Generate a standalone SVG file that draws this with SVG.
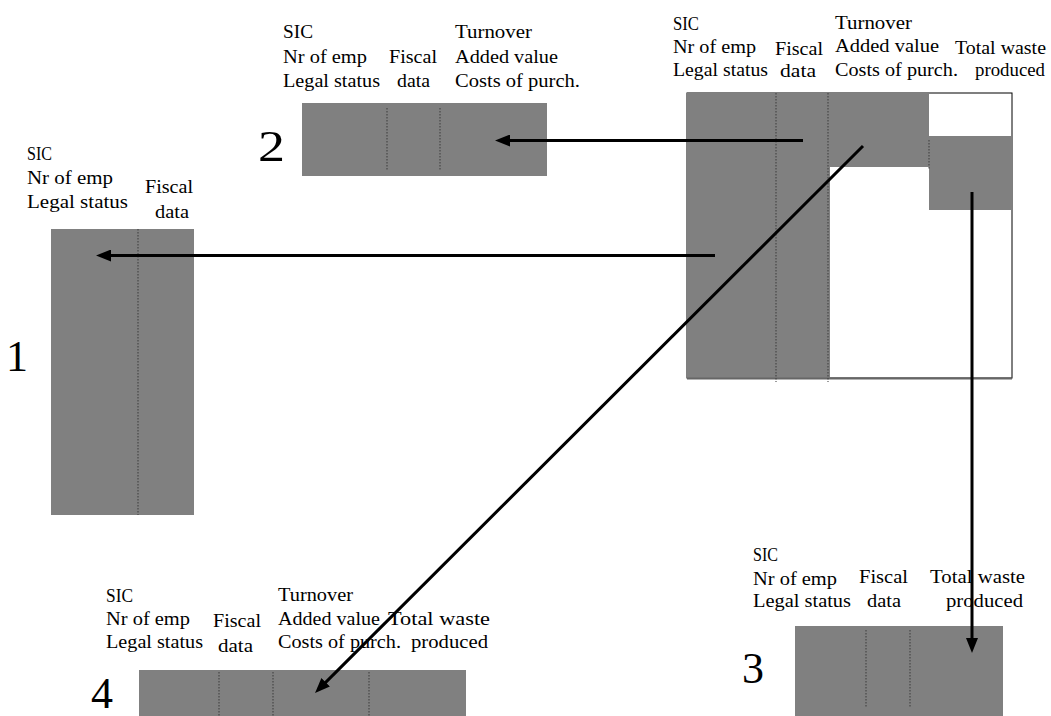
<svg xmlns="http://www.w3.org/2000/svg" width="1051" height="716" viewBox="0 0 1051 716" font-family="Liberation Serif, Times New Roman, serif">
<defs>
<style>
text{font-size:18.5px;fill:#000}
.num{font-size:44px}
.cell{fill:#808080}
.sep{stroke:#3a3a3a;stroke-width:1;stroke-dasharray:1.5 1.5;fill:none}
.conn{stroke:#000;stroke-width:3;fill:none}
</style>
<marker id="ah" markerWidth="5" markerHeight="4" refX="2" refY="2" orient="auto" markerUnits="strokeWidth">
<path d="M0,0 L5,2 L0,4 z" fill="#000"/>
</marker>
</defs>
<rect width="1051" height="716" fill="#fff"/>

<g id="source">
<rect x="687" y="93" width="325" height="285" fill="#fff" stroke="#000" stroke-width="1"/>
<rect class="cell" x="687" y="93" width="143" height="285"/>
<rect class="cell" x="830" y="93" width="99" height="74"/>
<rect class="cell" x="929" y="136" width="83" height="74"/>
<line x1="687" y1="378.5" x2="1012" y2="378.5" stroke="#666" stroke-width="2"/>
<line class="sep" x1="776" y1="93" x2="776" y2="382"/>
<line class="sep" x1="828" y1="93" x2="828" y2="382"/>
<line class="sep" x1="929" y1="140" x2="929" y2="170"/>
<text x="673" y="30" textLength="26" lengthAdjust="spacingAndGlyphs">SIC</text>
<text x="673" y="53" textLength="83" lengthAdjust="spacingAndGlyphs">Nr of emp</text>
<text x="673" y="76" textLength="95" lengthAdjust="spacingAndGlyphs">Legal status</text>
<text x="775" y="55" textLength="48" lengthAdjust="spacingAndGlyphs">Fiscal</text>
<text x="780" y="77" textLength="36" lengthAdjust="spacingAndGlyphs">data</text>
<text x="835" y="29" textLength="77" lengthAdjust="spacingAndGlyphs">Turnover</text>
<text x="835" y="52" textLength="104" lengthAdjust="spacingAndGlyphs">Added value</text>
<text x="835" y="76" textLength="123" lengthAdjust="spacingAndGlyphs">Costs of purch.</text>
<text x="955" y="54" textLength="91" lengthAdjust="spacingAndGlyphs">Total waste</text>
<text x="975" y="76" textLength="70" lengthAdjust="spacingAndGlyphs">produced</text>
</g>

<g id="block2">
<rect class="cell" x="302" y="103" width="245" height="73"/>
<line class="sep" x1="387" y1="108" x2="387" y2="170"/>
<line class="sep" x1="440" y1="108" x2="440" y2="170"/>
<text x="283" y="38" textLength="30" lengthAdjust="spacingAndGlyphs">SIC</text>
<text x="283" y="63" textLength="84" lengthAdjust="spacingAndGlyphs">Nr of emp</text>
<text x="283" y="87" textLength="97" lengthAdjust="spacingAndGlyphs">Legal status</text>
<text x="389" y="63" textLength="48" lengthAdjust="spacingAndGlyphs">Fiscal</text>
<text x="397" y="87" textLength="33" lengthAdjust="spacingAndGlyphs">data</text>
<text x="455" y="38" textLength="77" lengthAdjust="spacingAndGlyphs">Turnover</text>
<text x="455" y="63" textLength="103" lengthAdjust="spacingAndGlyphs">Added value</text>
<text x="455" y="87" textLength="125" lengthAdjust="spacingAndGlyphs">Costs of purch.</text>
<text class="num" x="258" y="161" textLength="27" lengthAdjust="spacingAndGlyphs">2</text>
</g>

<g id="block1">
<rect class="cell" x="51" y="229" width="143" height="286"/>
<line class="sep" x1="138" y1="229" x2="138" y2="515"/>
<text x="27" y="160" textLength="25" lengthAdjust="spacingAndGlyphs">SIC</text>
<text x="27" y="184" textLength="86" lengthAdjust="spacingAndGlyphs">Nr of emp</text>
<text x="27" y="208" textLength="101" lengthAdjust="spacingAndGlyphs">Legal status</text>
<text x="145" y="193" textLength="48" lengthAdjust="spacingAndGlyphs">Fiscal</text>
<text x="155" y="218" textLength="34" lengthAdjust="spacingAndGlyphs">data</text>
<text class="num" x="6" y="371">1</text>
</g>

<g id="block3">
<rect class="cell" x="795" y="626" width="208" height="90"/>
<line class="sep" x1="866" y1="630" x2="866" y2="708"/>
<line class="sep" x1="910" y1="630" x2="910" y2="708"/>
<text x="753" y="561" textLength="25" lengthAdjust="spacingAndGlyphs">SIC</text>
<text x="753" y="585" textLength="84" lengthAdjust="spacingAndGlyphs">Nr of emp</text>
<text x="753" y="607" textLength="98" lengthAdjust="spacingAndGlyphs">Legal status</text>
<text x="859" y="583" textLength="49" lengthAdjust="spacingAndGlyphs">Fiscal</text>
<text x="867" y="607" textLength="34" lengthAdjust="spacingAndGlyphs">data</text>
<text x="930" y="583" textLength="95" lengthAdjust="spacingAndGlyphs">Total waste</text>
<text x="946" y="607" textLength="77" lengthAdjust="spacingAndGlyphs">produced</text>
<text class="num" x="742" y="683">3</text>
</g>

<g id="block4">
<rect class="cell" x="139" y="670" width="327" height="46"/>
<line class="sep" x1="219" y1="672" x2="219" y2="716"/>
<line class="sep" x1="273" y1="672" x2="273" y2="716"/>
<line class="sep" x1="369" y1="672" x2="369" y2="716"/>
<text x="106" y="602" textLength="27" lengthAdjust="spacingAndGlyphs">SIC</text>
<text x="106" y="625" textLength="84" lengthAdjust="spacingAndGlyphs">Nr of emp</text>
<text x="106" y="648" textLength="97" lengthAdjust="spacingAndGlyphs">Legal status</text>
<text x="213" y="627" textLength="48" lengthAdjust="spacingAndGlyphs">Fiscal</text>
<text x="218" y="652" textLength="35" lengthAdjust="spacingAndGlyphs">data</text>
<text x="278" y="601" textLength="75" lengthAdjust="spacingAndGlyphs">Turnover</text>
<text x="278" y="625" textLength="102" lengthAdjust="spacingAndGlyphs">Added value</text>
<text x="278" y="648" textLength="123" lengthAdjust="spacingAndGlyphs">Costs of purch.</text>
<text x="388" y="625" textLength="102" lengthAdjust="spacingAndGlyphs">Total waste</text>
<text x="411" y="648" textLength="77" lengthAdjust="spacingAndGlyphs">produced</text>
<text class="num" x="91" y="708">4</text>
</g>

<g id="connectors">
<line class="conn" x1="803" y1="140.5" x2="504" y2="140.5" marker-end="url(#ah)"/>
<line class="conn" x1="715" y1="255.5" x2="105" y2="255.5" marker-end="url(#ah)"/>
<line class="conn" x1="863" y1="146" x2="321.4" y2="686.6" marker-end="url(#ah)"/>
<line class="conn" x1="972" y1="192" x2="972" y2="644" marker-end="url(#ah)"/>
</g>
</svg>
